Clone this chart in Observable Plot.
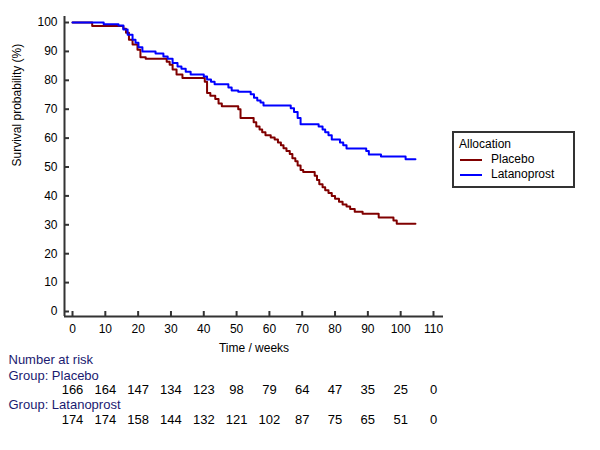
<!DOCTYPE html>
<html>
<head>
<meta charset="utf-8">
<script src="https://cdn.jsdelivr.net/npm/d3@7"></script>
<script src="https://cdn.jsdelivr.net/npm/@observablehq/plot@0.6"></script>
<style>
  html, body { margin: 0; padding: 0; background: #fff; }
  #wrap { position: relative; width: 600px; height: 450px; font-family: "Liberation Sans", Arial, sans-serif; }
  #legend { position: absolute; left: 452px; top: 131px; width: 119px; height: 53px; border: 2px solid #333; font-size: 12px; color: #000; }
  #legend .title { position: absolute; left: 5px; top: 4px; }
  #legend .row { position: absolute; left: 6px; height: 14px; line-height: 14px; }
  #legend .sw { display: inline-block; width: 22px; height: 2px; vertical-align: middle; margin-right: 9px; }
</style>
</head>
<body>
<div id="wrap"><div id="legend"></div></div>
<script>
// ---- data ----
const seriesNames = ["Placebo", "Latanoprost"];
const seriesColors = ["#800000", "#0000ff"];

const placeboTime = [0, 6, 15.5, 16.3, 17.2, 18.3, 19.8, 20.7, 22.3, 28.7, 29.6, 30.5, 31.7, 33.5, 40.3, 41, 42, 43.5, 44.5, 45.5, 50.5, 51.2, 55.2, 56, 57, 57.8, 58.8, 60.4, 61.6, 62.6, 63.5, 64.3, 65.2, 66.2, 67, 67.9, 68.6, 69.5, 70.3, 73.8, 74.5, 75.2, 76.2, 77, 78, 79, 80, 81.2, 82.3, 83.5, 84.6, 86, 88.4, 93.3, 97.8, 98.8, 104.5];
const placeboSurv = [100, 98.8, 97.8, 96.5, 94, 92.4, 90.6, 88, 87.5, 86.4, 85.4, 83.7, 82, 80.8, 79.5, 75.6, 74.7, 73.5, 72, 71, 70, 67, 65.5, 64, 63, 62, 61, 60.2, 59.5, 58.5, 57.5, 56.5, 55.5, 54.5, 53, 52, 50.5, 49, 48.3, 47, 45.5, 44, 43, 42, 41, 40, 39, 38, 37, 36.3, 35.5, 34.5, 33.8, 32.5, 31.5, 30.4, 30.4];

const latanoTime = [0, 9.5, 14, 15.5, 16.8, 18.3, 19.2, 20.1, 21.3, 25.3, 27.7, 29, 30.5, 32, 33.2, 34.5, 36, 40, 41, 42.2, 43.3, 47.5, 48.5, 50.5, 54.3, 55.3, 56.3, 57.3, 58.2, 66.5, 67.5, 68.6, 69.5, 75, 76.2, 77, 78, 79, 81.5, 82.5, 83.5, 89.5, 90.3, 94, 101.5, 104.5];
const latanoSurv = [100, 99.4, 99, 97.6, 95.8, 94, 93, 91.4, 90, 89.3, 88.2, 87.5, 86, 84.8, 84, 83, 82, 81.3, 80.3, 79.5, 78.6, 77.5, 76.5, 76, 75.2, 74, 73, 72.3, 71.3, 70.3, 69, 67, 64.8, 64, 63, 62, 61, 59.5, 58.5, 57.5, 56.4, 55.5, 54.3, 53.6, 52.7, 52.7];

const riskTimes = [0, 10, 20, 30, 40, 50, 60, 70, 80, 90, 100, 110];
const riskPlacebo = [166, 164, 147, 134, 123, 98, 79, 64, 47, 35, 25, 0];
const riskLatano = [174, 174, 158, 144, 132, 121, 102, 87, 75, 65, 51, 0];

const xTicks = [0, 10, 20, 30, 40, 50, 60, 70, 80, 90, 100, 110];
const yTicks = [0, 10, 20, 30, 40, 50, 60, 70, 80, 90, 100];
const xDomain = [-2.44, 113.05];
const yDomain = [-1.73, 102.08];

// ---- build tables ----
const curves = [
  ...placeboTime.map((t, i) => ({t, s: placeboSurv[i], g: seriesNames[0]})),
  ...latanoTime.map((t, i) => ({t, s: latanoSurv[i], g: seriesNames[1]}))
];
const riskRows = [
  ...riskTimes.map((t, i) => ({t, n: riskPlacebo[i], row: 0})),
  ...riskTimes.map((t, i) => ({t, n: riskLatano[i], row: 1}))
];

const axisColor = "#333";
const navy = "#1a1a70";

const chart = Plot.plot({
  width: 600,
  height: 450,
  marginLeft: 64,
  marginRight: 157,
  marginTop: 16,
  marginBottom: 134,
  style: {fontFamily: "'Liberation Sans', Arial, sans-serif", fontSize: "12px", color: "#000", background: "#fff"},
  x: {domain: xDomain, ticks: xTicks},
  y: {domain: yDomain, ticks: yTicks},
  color: {domain: seriesNames, range: seriesColors},
  marks: [
    // tick labels
    Plot.axisX({ticks: xTicks, tickSize: 0, tickPadding: 8, label: null, fontSize: 12}),
    Plot.axisY({ticks: yTicks, tickSize: 0, tickPadding: 7, label: null, fontSize: 12}),
    // inward ticks
    Plot.ruleX(xTicks, {x: d => d, y1: yDomain[0], y2: yDomain[0], stroke: axisColor, strokeWidth: 2, insetTop: -5}),
    Plot.ruleY(yTicks, {y: d => d, x1: xDomain[0], x2: xDomain[0], stroke: axisColor, strokeWidth: 2, insetRight: -5}),
    // axis lines
    Plot.ruleY([yDomain[0]], {stroke: axisColor, strokeWidth: 2}),
    Plot.ruleX([xDomain[0]], {stroke: axisColor, strokeWidth: 2}),
    // curves
    Plot.line(curves, {x: "t", y: "s", z: "g", stroke: "g", strokeWidth: 2, curve: "step-after"}),
    // axis titles
    Plot.text(["Time / weeks"], {frameAnchor: "bottom", dy: 35, fontSize: 12}),
    Plot.text(["Survival probability (%)"], {frameAnchor: "left", dx: -47, rotate: -90, fontSize: 12}),
    // number at risk
    Plot.text(["Number at risk"], {frameAnchor: "bottom-left", dx: -56, dy: 47, textAnchor: "start", fill: navy, fontSize: 13}),
    Plot.text(["Group: " + seriesNames[0]], {frameAnchor: "bottom-left", dx: -56, dy: 63, textAnchor: "start", fill: navy, fontSize: 13}),
    Plot.text(["Group: " + seriesNames[1]], {frameAnchor: "bottom-left", dx: -56, dy: 92, textAnchor: "start", fill: navy, fontSize: 13}),
    Plot.text(riskRows.filter(d => d.row === 0), {x: "t", text: d => String(d.n), frameAnchor: "bottom", dy: 77, fontSize: 13}),
    Plot.text(riskRows.filter(d => d.row === 1), {x: "t", text: d => String(d.n), frameAnchor: "bottom", dy: 107, fontSize: 13})
  ]
});
document.getElementById("wrap").insertBefore(chart, document.getElementById("legend"));

// legend
const lg = document.getElementById("legend");
const title = document.createElement("div");
title.className = "title";
title.textContent = "Allocation";
lg.appendChild(title);
seriesNames.forEach((name, i) => {
  const row = document.createElement("div");
  row.className = "row";
  row.style.top = (19 + i * 15) + "px";
  const sw = document.createElement("span");
  sw.className = "sw";
  sw.style.background = seriesColors[i];
  row.appendChild(sw);
  row.appendChild(document.createTextNode(name));
  lg.appendChild(row);
});
</script>
</body>
</html>
